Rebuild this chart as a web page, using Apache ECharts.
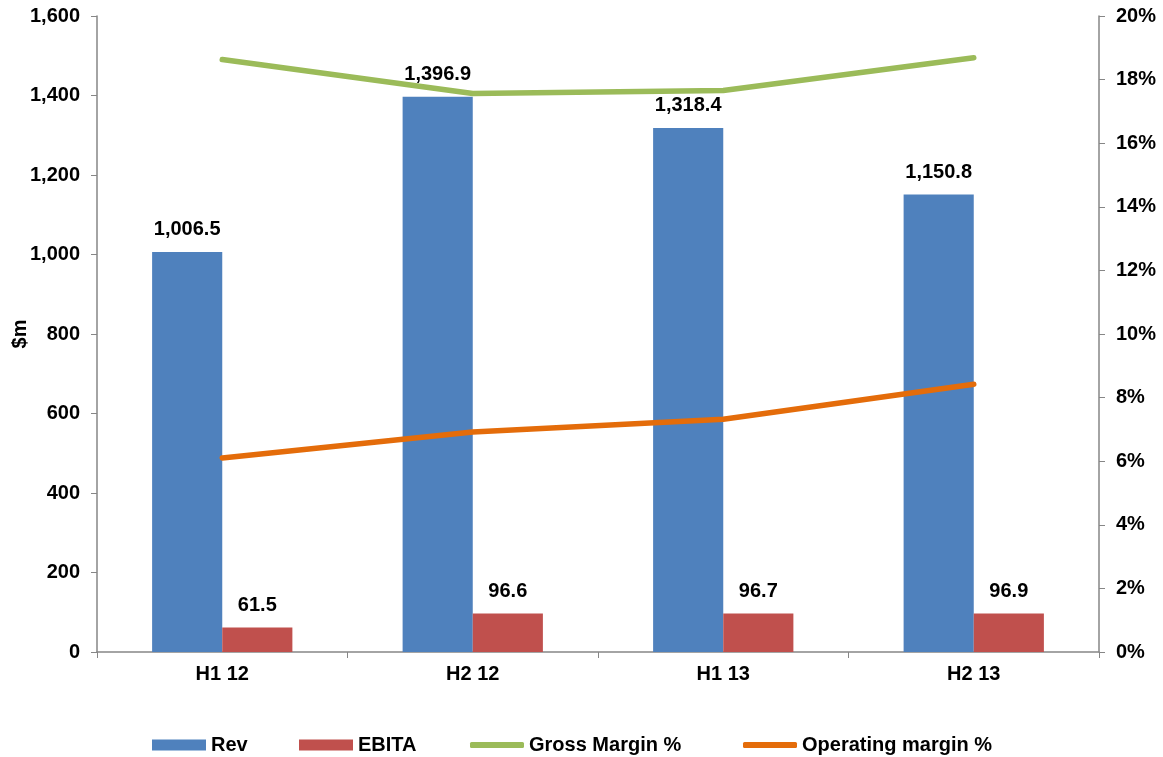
<!DOCTYPE html>
<html>
<head>
<meta charset="utf-8">
<script src="https://cdn.jsdelivr.net/npm/echarts@6/dist/echarts.min.js"></script>
<style>
    html, body { margin: 0; padding: 0; background: #fff; }
    #chart { width: 1163px; height: 757px; }
</style>
</head>
<body>
<div id="chart"></div>
<script>
    // values
    var categories = ['H1 12', 'H2 12', 'H1 13', 'H2 13'];
    var revenue = [1006.5, 1396.9, 1318.4, 1150.8];
    var ebita = [61.5, 96.6, 96.7, 96.9];
    var grossMargin = [18.63, 17.56, 17.66, 18.69];
    var operatingMargin = [6.10, 6.92, 7.32, 8.42];

    var font = '"Liberation Sans", Arial, sans-serif';
    var axisGrey = '#868686';
    var fs = 20;

    function fmt(v) {
        return v.toLocaleString('en-US', { minimumFractionDigits: 1, maximumFractionDigits: 1 });
    }

    // one legend block per entry so each sits where the original puts it
    function legendItem(name, left, height, icon) {
        return {
            left: left,
            top: 730,
            itemWidth: 54,
            itemHeight: height,
            icon: icon,
            textStyle: { fontSize: fs, fontWeight: 'bold', color: '#000', fontFamily: font },
            data: [name]
        };
    }

    var chart = echarts.init(document.getElementById('chart'));
    chart.setOption({
        animation: false,
        textStyle: { fontFamily: font },
        grid: { left: 97, right: 64, top: 16, bottom: 105, outerBoundsMode: 'none' },
        legend: [
            legendItem('Rev', 147, 11, 'rect'),
            legendItem('EBITA', 294, 11, 'rect'),
            legendItem('Gross Margin %', 465, 6, 'roundRect'),
            legendItem('Operating margin %', 738, 6, 'roundRect')
        ],
        xAxis: {
            type: 'category',
            data: categories,
            axisLine: { lineStyle: { color: axisGrey, width: 1.5 } },
            axisTick: { show: true, length: 6, lineStyle: { color: axisGrey } },
            axisLabel: { fontSize: fs, fontWeight: 'bold', color: '#000', margin: 12 }
        },
        yAxis: [
            {
                type: 'value',
                min: 0, max: 1600, interval: 200,
                name: '$m',
                nameLocation: 'middle',
                nameGap: 67,
                nameMoveOverlap: false,
                nameTextStyle: { fontSize: fs, fontWeight: 'bold', color: '#000' },
                axisLine: { show: true, lineStyle: { color: axisGrey, width: 1.5 } },
                axisTick: { show: true, length: 6, lineStyle: { color: axisGrey } },
                splitLine: { show: false },
                axisLabel: {
                    fontSize: fs, fontWeight: 'bold', color: '#000', margin: 17,
                    formatter: function (v) { return v.toLocaleString('en-US'); }
                }
            },
            {
                type: 'value',
                min: 0, max: 20, interval: 2,
                position: 'right',
                axisLine: { show: true, lineStyle: { color: axisGrey, width: 1.5 } },
                axisTick: { show: true, length: 6, lineStyle: { color: axisGrey } },
                splitLine: { show: false },
                axisLabel: {
                    fontSize: fs, fontWeight: 'bold', color: '#000', margin: 17,
                    formatter: '{value}%'
                }
            }
        ],
        series: [
            {
                name: 'Rev',
                type: 'bar',
                data: revenue,
                barGap: '0%',
                barCategoryGap: '44%',
                itemStyle: { color: '#4F81BD' },
                label: {
                    show: true, position: 'top', distance: 12,
                    fontSize: fs, fontWeight: 'bold', color: '#000',
                    formatter: function (p) { return fmt(p.value); }
                }
            },
            {
                name: 'EBITA',
                type: 'bar',
                data: ebita,
                itemStyle: { color: '#C0504D' },
                label: {
                    show: true, position: 'top', distance: 12,
                    fontSize: fs, fontWeight: 'bold', color: '#000',
                    formatter: function (p) { return fmt(p.value); }
                }
            },
            {
                name: 'Gross Margin %',
                type: 'line',
                yAxisIndex: 1,
                data: grossMargin,
                symbol: 'none',
                z: 3,
                lineStyle: { color: '#9BBB59', width: 5.5, cap: 'round', join: 'round' },
                itemStyle: { color: '#9BBB59' }
            },
            {
                name: 'Operating margin %',
                type: 'line',
                yAxisIndex: 1,
                data: operatingMargin,
                symbol: 'none',
                z: 3,
                lineStyle: { color: '#E46C0A', width: 5.5, cap: 'round', join: 'round' },
                itemStyle: { color: '#E46C0A' }
            }
        ]
    });
</script>
</body>
</html>
